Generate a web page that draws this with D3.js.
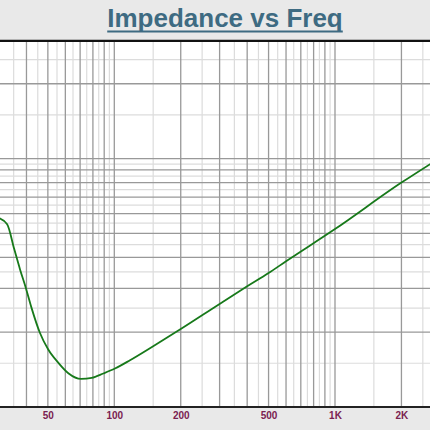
<!DOCTYPE html>
<html>
<head>
<meta charset="utf-8">
<script src="https://cdn.jsdelivr.net/npm/d3@7"></script>
<style>
  html, body { margin: 0; padding: 0; background: #fff; }
  svg { display: block; }
</style>
</head>
<body>
<svg id="chart"></svg>
<script>
let width = 430;
let height = 430;

// impedance curve (Hz, ohm)
let freq = [30, 32.7, 35.2, 37.4, 39.8, 42.2, 46, 50.2, 55.8, 61.9, 70.7, 79, 89.2, 100.7, 117.8, 150, 200, 300, 400, 500, 600, 1000, 2000, 2700];
let imp  = [28.8, 27.2, 21.6, 17.9, 15.0, 12.5, 9.95, 8.52, 7.53, 6.84, 6.49, 6.55, 6.82, 7.14, 7.71, 8.78, 10.3, 13.0, 15.3, 17.3, 19.3, 26.0, 40.0, 47.5];

// grid + tick values
let xMajor = [40, 50, 60, 70, 80, 90, 100, 200, 300, 400, 500, 600, 700, 800, 900, 1000, 2000];
let xMinor = [35, 45, 55, 65, 75, 85, 95, 150, 250, 350, 450, 550, 650, 750, 850, 950, 1500, 2500];
let yMajor = [10, 15, 20, 25, 30, 35, 40, 45, 50, 100, 150];
let yMinor = [7.5, 12.5, 17.5, 22.5, 27.5, 32.5, 37.5, 42.5, 47.5, 75, 125];
let xTicks = [50, 100, 200, 500, 1000, 2000];

let title = "Impedance vs Freq";

let plotTop = 41;
let plotBottom = 407;

let svg = d3.select("#chart")
    .attr("width", width)
    .attr("height", height)
    .attr("viewBox", [0, 0, width, height]);

let x = d3.scaleLog().domain([100, 1000]).range([114.3, 335]);
let y = d3.scaleLog().domain([5, 150]).range([plotBottom, 40]);

// backgrounds
svg.append("rect").attr("x", 0).attr("y", 0).attr("width", width).attr("height", height).attr("fill", "#e9e9e9");
svg.append("rect").attr("x", 0).attr("y", plotTop).attr("width", width).attr("height", plotBottom - plotTop).attr("fill", "#ffffff");
svg.append("line").attr("x1", 0).attr("x2", width).attr("y1", 39.5).attr("y2", 39.5).attr("stroke", "#ffffff").attr("stroke-width", 1);

// grid, light lines first
let grid = svg.append("g").attr("class", "grid");

grid.selectAll(".vminor").data(xMinor).join("line")
    .attr("x1", d => x(d)).attr("x2", d => x(d))
    .attr("y1", plotTop).attr("y2", plotBottom)
    .attr("stroke", "#dcdcdc").attr("stroke-width", 1.2);

grid.selectAll(".hminor").data(yMinor).join("line")
    .attr("x1", 0).attr("x2", width)
    .attr("y1", d => y(d)).attr("y2", d => y(d))
    .attr("stroke", "#dcdcdc").attr("stroke-width", 1.2);

grid.selectAll(".vmajor").data(xMajor).join("line")
    .attr("x1", d => x(d)).attr("x2", d => x(d))
    .attr("y1", plotTop).attr("y2", plotBottom)
    .attr("stroke", "#999999").attr("stroke-width", 1.3);

grid.selectAll(".hmajor").data(yMajor).join("line")
    .attr("x1", 0).attr("x2", width)
    .attr("y1", d => y(d)).attr("y2", d => y(d))
    .attr("stroke", "#999999").attr("stroke-width", 1.3);

// frame lines top and bottom
svg.append("line").attr("x1", 0).attr("x2", width).attr("y1", 41).attr("y2", 41)
    .attr("stroke", "#111").attr("stroke-width", 2);
svg.append("line").attr("x1", 0).attr("x2", width).attr("y1", plotBottom).attr("y2", plotBottom)
    .attr("stroke", "#222").attr("stroke-width", 2);

// curve
let line = d3.line()
    .x((d, i) => x(freq[i]))
    .y(d => y(d))
    .curve(d3.curveMonotoneX);

svg.append("path")
    .datum(imp)
    .attr("fill", "none")
    .attr("stroke", "#17791a")
    .attr("stroke-width", 1.8)
    .attr("stroke-linejoin", "round")
    .attr("d", line);

// x axis labels
let xAxis = svg.append("g")
    .attr("transform", `translate(0,${plotBottom + 1})`)
    .call(d3.axisBottom(x).tickValues(xTicks).tickSize(0).tickPadding(4)
        .tickFormat(d => d >= 1000 ? (d / 1000) + "K" : d));

xAxis.select(".domain").remove();
xAxis.selectAll("text")
    .style("font-family", "'Liberation Sans', Arial, sans-serif")
    .style("font-size", "10px")
    .style("font-weight", "bold")
    .style("fill", "#7a2150");

// title with underline
let titleText = svg.append("text")
    .attr("x", 225)
    .attr("y", 27)
    .attr("text-anchor", "middle")
    .style("font-family", "'Liberation Sans', Arial, sans-serif")
    .style("font-size", "26px")
    .style("font-weight", "bold")
    .style("fill", "#3e6b82")
    .text(title);

let tw = titleText.node().getComputedTextLength();
svg.append("rect")
    .attr("x", 225 - tw / 2)
    .attr("y", 30.5)
    .attr("width", tw)
    .attr("height", 2)
    .attr("fill", "#3e6b82");
</script>
</body>
</html>
